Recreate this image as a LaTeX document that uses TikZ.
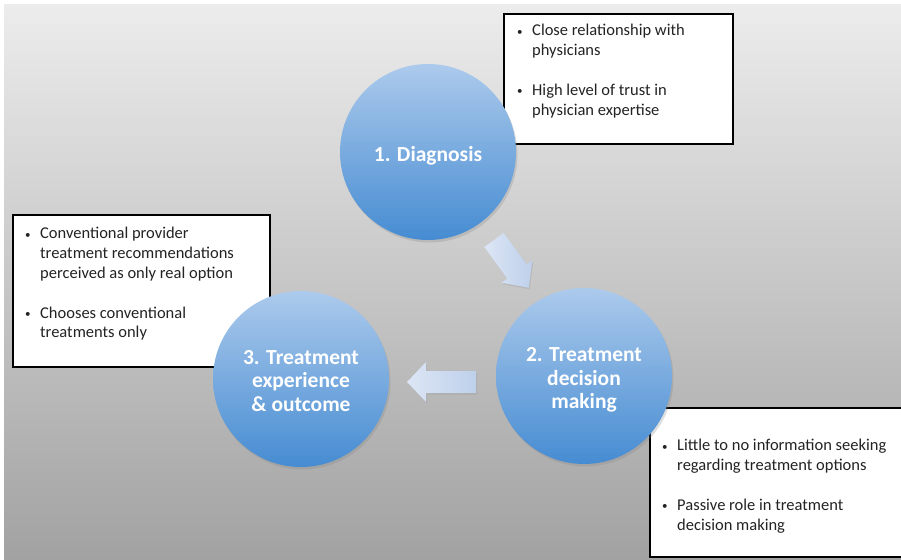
\documentclass[tikz,border=0pt]{standalone}
\usepackage{fontspec}
\setmainfont{Carlito}
\usetikzlibrary{shadows}
\definecolor{bgtop}{RGB}{236,236,236}
\definecolor{bgbot}{RGB}{162,162,162}
\definecolor{ctop}{RGB}{172,202,236}
\definecolor{cbot}{RGB}{70,140,210}
\definecolor{atop}{RGB}{220,230,245}
\definecolor{abot}{RGB}{190,208,235}
\definecolor{txt}{RGB}{35,35,35}
\tikzset{
  stagecircle/.style={circle, minimum size=176pt, inner sep=0pt,
    top color=ctop, bottom color=cbot, draw=none,
    drop shadow={opacity=0.25, shadow xshift=1.5pt, shadow yshift=-2.5pt}},
  stagetext/.style={text=white, font=\bfseries\fontsize{21.5}{23.5}\selectfont, align=center, inner sep=0pt},
  notebox/.style={rectangle, draw=black, line width=1.8pt, fill=white,
    drop shadow={opacity=0.3, shadow xshift=1pt, shadow yshift=-1pt},
    anchor=north west, inner sep=0pt},
  notetext/.style={anchor=north west, inner sep=0pt, text=txt,
    font=\fontsize{16.5}{19.7}\selectfont, align=left},
  blockarrow/.style={draw=none, left color=atop, right color=abot,
    drop shadow={opacity=0.2, shadow xshift=1pt, shadow yshift=-1.5pt}}
}
\newcommand{\bul}[1]{\makebox[15pt][l]{\raisebox{0.5pt}{\fontsize{11}{11}\selectfont•}}#1}
\newcommand{\cont}[1]{\hspace*{15pt}#1}
\begin{document}
\begin{tikzpicture}[x=1pt,y=-1pt]
\useasboundingbox (0,0) rectangle (901,559);
\fill[white] (0,0) rectangle (901,559);
\shade[top color=bgtop, bottom color=bgbot] (4,5) rectangle (901,559);

% note boxes
\node[notebox, minimum width=229pt, minimum height=130pt] (b1) at (503,13) {};
\node[notetext] (t1) at (517,24) {\bul{Close relationship with}\\\cont{physicians}\\[20.3pt]\bul{High level of trust in}\\\cont{physician expertise}};

\node[notebox, minimum width=257pt, minimum height=152pt] (b2) at (12,214) {};
\node[notetext] (t2) at (25,227) {\bul{Conventional provider}\\\cont{treatment recommendations}\\\cont{perceived as only real option}\\[20.3pt]\bul{Chooses conventional}\\\cont{treatments only}};

\node[notebox, minimum width=260pt, minimum height=149pt] (b3) at (649,407) {};
\node[notetext] (t3) at (662,439) {\bul{Little to no information seeking}\\\cont{regarding treatment options}\\[20.3pt]\bul{Passive role in treatment}\\\cont{decision making}};

% circles
\node[stagecircle] (c1) at (428,152) {};
\node[stagecircle] (c2) at (584,376) {};
\node[stagecircle] (c3) at (301,379) {};
\node[stagetext] (l1) at ([yshift=-4pt]c1.center) {1. Diagnosis};
\node[stagetext] (l2) at ([yshift=-4pt]c2.center) {2. Treatment\\decision\\making};
\node[stagetext] (l3) at ([yshift=-2pt]c3.center) {3. Treatment\\experience\\\& outcome};

% block arrows
\begin{scope}[shift={(494,240)}, rotate=-54]
\path[blockarrow] (0,-12) -- (39,-12) -- (39,-19) -- (59,0) -- (39,19) -- (39,12) -- (0,12) -- cycle;
\end{scope}
\begin{scope}[shift={(476,382)}, rotate=180]
\path[blockarrow] (0,-11) -- (50,-11) -- (50,-20) -- (69,0) -- (50,20) -- (50,11) -- (0,11) -- cycle;
\end{scope}
\end{tikzpicture}
\end{document}
